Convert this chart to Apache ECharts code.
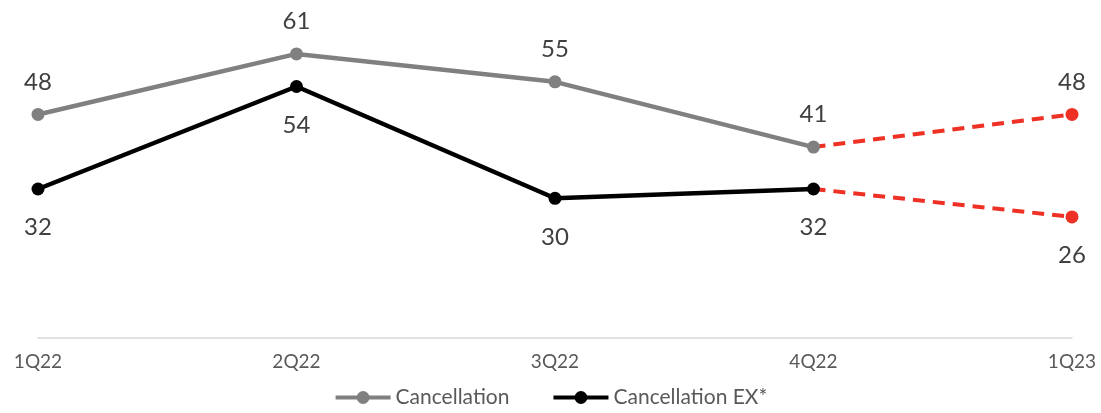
<!DOCTYPE html>
<html>
<head>
<meta charset="utf-8">
<script src="https://cdn.jsdelivr.net/npm/echarts@6/dist/echarts.min.js"></script>
<style>
  html, body { margin: 0; padding: 0; background: #ffffff; }
  #chart { width: 1101px; height: 413px; }
</style>
</head>
<body>
<div id="chart"></div>
<script>
// Quarters on the x axis
const quarters = ['1Q22', '2Q22', '3Q22', '4Q22', '1Q23'];
// Reported quarters (1Q22–4Q22)
const cancellation = [48, 61, 55, 41];
const cancellationEx = [32, 54, 30, 32];
// Outlook quarter, drawn as a dashed red continuation from 4Q22
const cancellationOutlook = 48;
const cancellationExOutlook = 26;

const GRAY = '#808080';
const BLACK = '#000000';
const RED = '#EE3124';
const FONT = 'Lato, "Open Sans", sans-serif';

const n = quarters.length;
function solidData(vals) {
  const d = vals.slice();
  while (d.length < n) d.push('-');
  return d;
}
function outlookData(vals, next) {
  const d = new Array(n).fill('-');
  d[n - 2] = { value: vals[vals.length - 1], symbol: 'none', label: { show: false } };
  d[n - 1] = next;
  return d;
}

const labelBase = { show: true, fontSize: 24, color: '#404040', fontFamily: FONT };
const labelAbove = Object.assign({ position: 'top', distance: 14 }, labelBase);
const labelBelow = Object.assign({ position: 'bottom', distance: 20 }, labelBase);

const chart = echarts.init(document.getElementById('chart'), null, { renderer: 'canvas' });
chart.setOption({
  animation: false,
  backgroundColor: '#ffffff',
  grid: { left: 38, right: 29, top: 12, bottom: 75 },
  xAxis: {
    type: 'category',
    data: quarters,
    boundaryGap: false,
    axisLine: { lineStyle: { color: '#D9D9D9', width: 1.5 } },
    axisTick: { show: false },
    axisLabel: { color: '#595959', fontSize: 19, fontFamily: FONT, margin: 14 }
  },
  yAxis: {
    type: 'value', min: 0, max: 70,
    show: false, splitLine: { show: false }
  },
  legend: {
    data: ['Cancellation', 'Cancellation EX*'],
    bottom: 0,
    left: 'center',
    itemWidth: 55,
    itemHeight: 16,
    itemGap: 42,
    lineStyle: { width: 4 },
    textStyle: { color: '#595959', fontSize: 21, fontFamily: FONT }
  },
  series: [
    {
      name: 'Cancellation outlook', type: 'line',
      data: outlookData(cancellation, cancellationOutlook),
      symbol: 'circle', symbolSize: 13,
      lineStyle: { color: RED, width: 4, type: [12, 8] },
      itemStyle: { color: RED },
      label: labelAbove,
      z: 2
    },
    {
      name: 'Cancellation EX* outlook', type: 'line',
      data: outlookData(cancellationEx, cancellationExOutlook),
      symbol: 'circle', symbolSize: 13,
      lineStyle: { color: RED, width: 4, type: [12, 8] },
      itemStyle: { color: RED },
      label: labelBelow,
      z: 2
    },
    {
      name: 'Cancellation', type: 'line',
      data: solidData(cancellation),
      symbol: 'circle', symbolSize: 13,
      lineStyle: { color: GRAY, width: 4.5 },
      itemStyle: { color: GRAY },
      label: labelAbove,
      z: 3
    },
    {
      name: 'Cancellation EX*', type: 'line',
      data: solidData(cancellationEx),
      symbol: 'circle', symbolSize: 13,
      lineStyle: { color: BLACK, width: 4.5 },
      itemStyle: { color: BLACK },
      label: labelBelow,
      z: 3
    }
  ]
});
</script>
</body>
</html>
